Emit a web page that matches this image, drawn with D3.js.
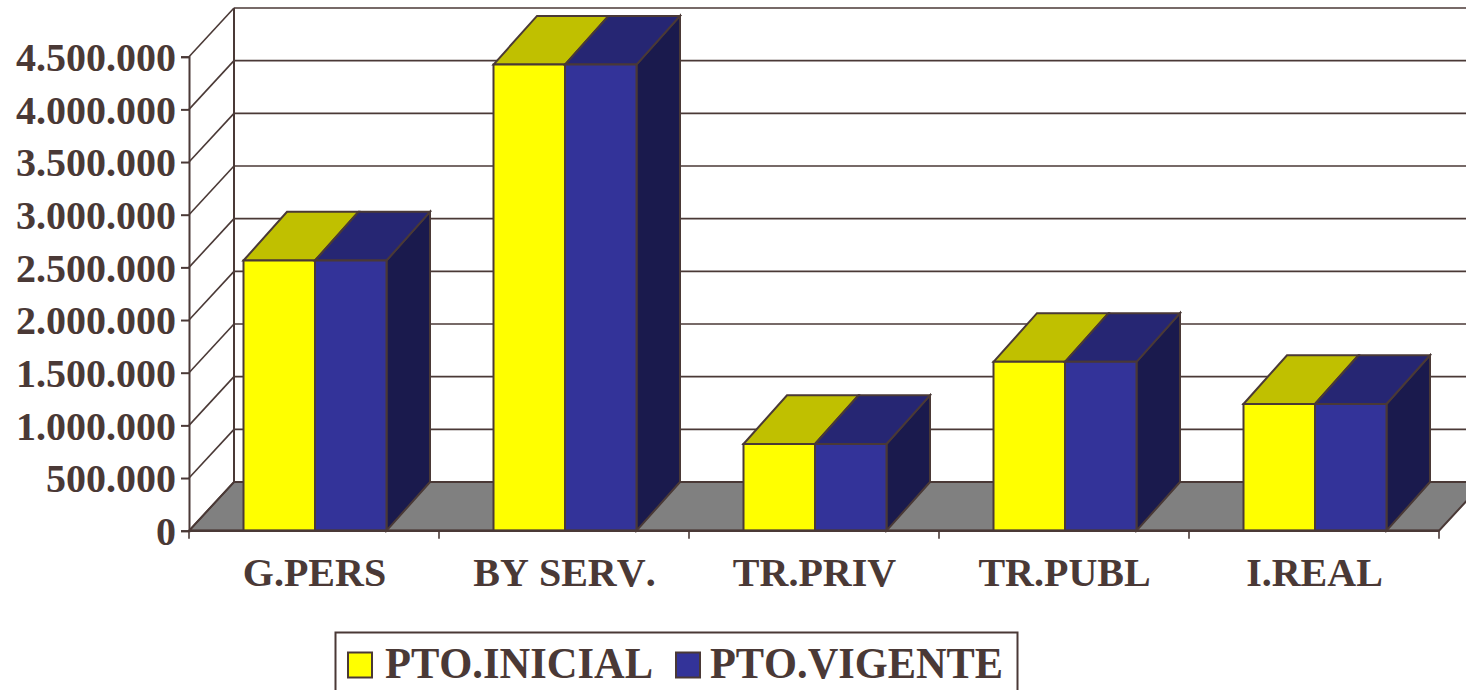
<!DOCTYPE html>
<html>
<head>
<meta charset="utf-8">
<script src="https://cdn.jsdelivr.net/npm/d3@7"></script>
<style>
  html, body { margin: 0; padding: 0; background: #fff; overflow: hidden; }
  text { font-family: "Liberation Serif", serif; font-weight: bold; fill: #4a3936; font-kerning: none; }
</style>
</head>
<body>
<div id="chart"></div>
<script>
const categories = ['G.PERS', 'BY SERV.', 'TR.PRIV', 'TR.PUBL', 'I.REAL'];
const seriesNames = ['PTO.INICIAL', 'PTO.VIGENTE'];
const ptoInicial = [2565000, 4425000, 823000, 1603000, 1203000];
const ptoVigente = [2565000, 4425000, 823000, 1603000, 1203000];
const yTicks = [0, 500000, 1000000, 1500000, 2000000, 2500000, 3000000, 3500000, 4000000, 4500000];
const wallMax = 4500000;

const width = 1466;
const height = 690;
const lineColor = '#4a3936';

// depth of the fake 3d box
const depthX = 43.5;
const depthY = -48.7;

const svg = d3.select('#chart').append('svg')
  .attr('width', width)
  .attr('height', height)
  .style('display', 'block');

const x = d3.scaleBand().domain(categories).range([189, 1439]);
const y = d3.scaleLinear().domain([0, wallMax]).range([530.7, 56.7]);
const xSeries = d3.scaleBand().domain(seriesNames).range([54.5, 197.5]);

const fmt = d3.formatLocale({ decimal: ',', thousands: '.', grouping: [3], currency: ['', ''] }).format(',d');

function poly(points, fill) {
  return svg.append('polygon')
    .attr('points', points.map(p => p.join(',')).join(' '))
    .attr('fill', fill)
    .attr('stroke', lineColor)
    .attr('stroke-width', 2)
    .attr('stroke-linejoin', 'miter');
}

// floor
const x0 = x.range()[0];
const x1 = x.range()[1];
const base = y(0);
const wallX = x0 + 45;
poly([[x0, base], [x1, base], [x1 + 45, base + depthY], [wallX, base + depthY]], '#808080');

// back wall + left wall
svg.append('line')
  .attr('x1', wallX).attr('x2', wallX)
  .attr('y1', base + depthY).attr('y2', y(wallMax) + depthY)
  .attr('stroke', lineColor).attr('stroke-width', 2);

yTicks.forEach(t => {
  svg.append('line')
    .attr('x1', x0).attr('y1', y(t))
    .attr('x2', wallX).attr('y2', y(t) + depthY)
    .attr('stroke', lineColor).attr('stroke-width', 1.6);
  if (t > 0) {
    svg.append('line')
      .attr('x1', wallX).attr('y1', y(t) + depthY)
      .attr('x2', width).attr('y2', y(t) + depthY)
      .attr('stroke', lineColor).attr('stroke-width', 1.6);
  }
});

// bars
const bars = [
  { name: seriesNames[0], values: ptoInicial, front: '#ffff00', top: '#c0c000', side: '#808000' },
  { name: seriesNames[1], values: ptoVigente, front: '#333399', top: '#262673', side: '#1a1a4d' }
];

categories.forEach((cat, i) => {
  bars.forEach((s, j) => {
    const left = x(cat) + xSeries(s.name);
    const right = left + xSeries.bandwidth();
    const topY = y(s.values[i]);
    if (j === bars.length - 1) {
      poly([[right, topY], [right + depthX, topY + depthY], [right + depthX, base + depthY], [right, base]], s.side);
    }
    poly([[left, topY], [left + depthX, topY + depthY], [right + depthX, topY + depthY], [right, topY]], s.top);
    poly([[left, topY], [right, topY], [right, base], [left, base]], s.front);
  });
});

// axes
const yAxis = svg.append('g')
  .attr('transform', `translate(${x0},0)`)
  .call(d3.axisLeft(y).tickValues(yTicks).tickFormat(fmt).tickSize(8).tickPadding(5));
yAxis.selectAll('.tick line').attr('stroke', lineColor).attr('stroke-width', 2);
yAxis.select('.domain').attr('stroke', lineColor).attr('stroke-width', 2);
yAxis.selectAll('text')
  .attr('font-size', 40)
  .attr('font-family', null)
  .attr('dy', '0.345em')
  .style('fill', lineColor);

svg.append('line')
  .attr('x1', x0).attr('x2', x1).attr('y1', base).attr('y2', base)
  .attr('stroke', lineColor).attr('stroke-width', 2.4);

svg.selectAll('.xtick')
  .data([...categories.map(c => x(c)), x1])
  .enter().append('line')
  .attr('class', 'xtick')
  .attr('x1', d => d).attr('x2', d => d)
  .attr('y1', base).attr('y2', base + 8)
  .attr('stroke', lineColor).attr('stroke-width', 1.6);

svg.selectAll('.xlabel')
  .data(categories)
  .enter().append('text')
  .attr('class', 'xlabel')
  .attr('x', d => x(d) + 125.5)
  .attr('y', 586)
  .attr('text-anchor', 'middle')
  .attr('font-size', 40)
  .text(d => d);

// legend
svg.append('rect')
  .attr('x', 335.5).attr('y', 632.5)
  .attr('width', 682).attr('height', 70)
  .attr('fill', '#fff')
  .attr('stroke', lineColor).attr('stroke-width', 2);

const legendX = [348, 676];
const legendTextX = [385, 710];
const legendTextLen = [268, 293];
seriesNames.forEach((name, i) => {
  svg.append('rect')
    .attr('x', legendX[i]).attr('y', 652.5)
    .attr('width', 24).attr('height', 25)
    .attr('fill', bars[i].front)
    .attr('stroke', lineColor).attr('stroke-width', 2);
  svg.append('text')
    .attr('x', legendTextX[i]).attr('y', 678)
    .attr('font-size', 44)
    .attr('textLength', legendTextLen[i])
    .attr('lengthAdjust', 'spacingAndGlyphs')
    .text(name);
});
</script>
</body>
</html>
